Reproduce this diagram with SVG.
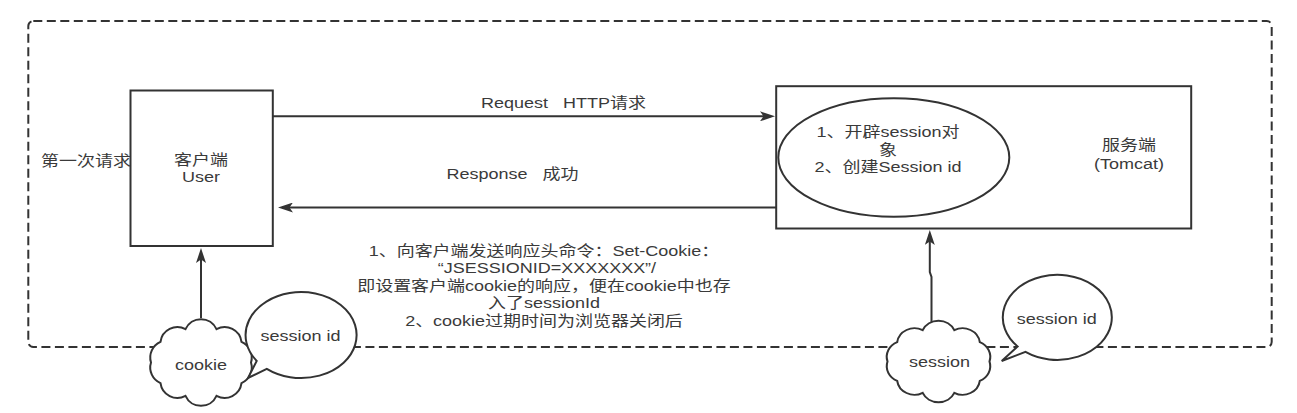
<svg xmlns="http://www.w3.org/2000/svg" width="1297" height="413" viewBox="0 0 1297 413">
<style>
.t{font-family:"Liberation Sans","Noto Sans CJK SC",sans-serif;font-size:15px;fill:#3a3a3a;text-anchor:middle;transform-box:fill-box;transform-origin:center;transform:scaleX(1.2);}
.s{fill:#fff;stroke:#333;stroke-width:2;}
.c{fill:none;stroke:#333;stroke-width:2;}
.d{fill:none;stroke:#333;stroke-width:2;stroke-dasharray:9 4.5;}
</style>
<defs>
<marker id="arr" viewBox="0 0 15 10" markerWidth="15" markerHeight="10" refX="11" refY="5" orient="auto" markerUnits="userSpaceOnUse">
<path d="M0,0 L15,5 L0,10 L3.5,5 Z" fill="#333"/>
</marker>
<path id="cloud" d="M50,0 A17,17 0 0 1 40.5,20.6 A17,17 0 0 1 15.5,33.3 A17,17 0 0 1 -15.5,33.3 A17,17 0 0 1 -40.5,20.6 A17,17 0 0 1 -50,0 A17,17 0 0 1 -40.5,-20.6 A17,17 0 0 1 -15.5,-33.3 A17,17 0 0 1 15.5,-33.3 A17,17 0 0 1 40.5,-20.6 A17,17 0 0 1 50,0 Z"/>
</defs>
<rect width="1297" height="413" fill="#fff"/>
<g id="container">
<rect class="d" x="28.3" y="21" width="1243.4" height="326" rx="5"/>
</g>
<g id="first-request">
<text class="t" x="86" y="166.5">第一次请求</text>
</g>
<g id="client">
<rect class="s" x="130.5" y="90.5" width="142.3" height="155.5"/>
<text class="t" x="201" y="165.5">客户端</text>
<text class="t" x="201" y="182">User</text>
</g>
<g id="server">
<rect class="s" x="776.2" y="86.2" width="415" height="142.3"/>
<text class="t" x="1129" y="150.5">服务端</text>
<text class="t" x="1129" y="169.5">(Tomcat)</text>
</g>
<g id="session-create">
<ellipse class="s" cx="893.8" cy="157.5" rx="115.5" ry="59.2"/>
<text class="t" x="888" y="137">1、开辟session对</text>
<text class="t" x="888" y="155.5">象</text>
<text class="t" x="888" y="172.5">2、创建Session id</text>
</g>
<g id="connectors">
<path class="c" d="M272.8,116.3 H771" marker-end="url(#arr)"/>
<path class="c" d="M776.2,207.5 H282" marker-end="url(#arr)"/>
<path class="c" d="M201,318 V252" marker-end="url(#arr)"/>
<path class="c" d="M931.5,322 V277 L929.8,272 V234" marker-end="url(#arr)"/>
<text class="t" x="563.5" y="108.5">Request&#160;&#160;&#160;HTTP请求</text>
<text class="t" x="512.5" y="179.5">Response&#160;&#160;&#160;成功</text>
<text class="t" x="544" y="256">1、向客户端发送响应头命令：Set-Cookie：</text>
<text class="t" x="547" y="273.5">“JSESSIONID=XXXXXXX”/</text>
<text class="t" x="544" y="291">即设置客户端cookie的响应，便在cookie中也存</text>
<text class="t" x="544" y="308.5">入了sessionId</text>
<text class="t" x="544" y="326">2、cookie过期时间为浏览器关闭后</text>
</g>
<g id="cookie">
<use href="#cloud" class="s" transform="translate(201,362.5)"/>
<text class="t" x="201" y="370.5">cookie</text>
</g>
<g id="cookie-bubble">
<path class="s" d="M266.8,368.9 A55.5,43 0 1 0 256.7,360.9 L248,378 Z"/>
<text class="t" x="300.5" y="341.5">session id</text>
</g>
<g id="session">
<use href="#cloud" class="s" transform="translate(938.5,361.5) scale(1.02,0.94)"/>
<text class="t" x="939.5" y="366.5">session</text>
</g>
<g id="session-bubble">
<path class="s" d="M1025.5,351.9 A54.5,42.5 0 1 0 1017.6,346.5 L1001.7,361 Z"/>
<text class="t" x="1056.7" y="324">session id</text>
</g>
</svg>
